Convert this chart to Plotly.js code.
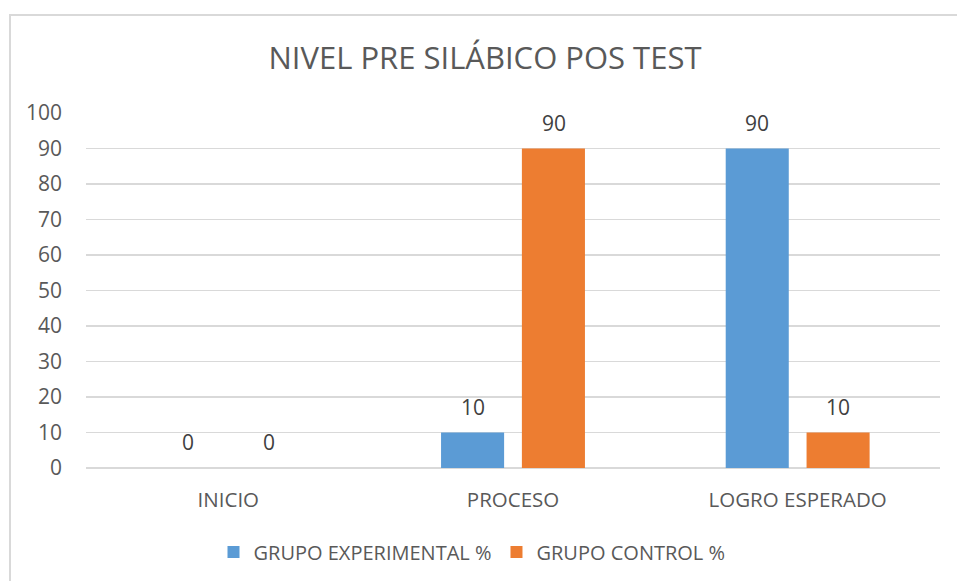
<!DOCTYPE html>
<html>
<head>
<meta charset="utf-8">
<script src="https://cdn.plot.ly/plotly-3.0.1.min.js"></script>
<style>
html,body{margin:0;padding:0;background:#fff;overflow:hidden;}
#frame{position:absolute;left:9px;top:14px;width:1000px;height:1000px;border:2px solid #d9d9d9;box-sizing:border-box;}
#chart{position:absolute;left:0;top:0;width:957px;height:581px;}
</style>
</head>
<body>
<div id="frame"></div>
<div id="chart"></div>
<script>
const categories = ['INICIO', 'PROCESO', 'LOGRO ESPERADO'];
const experimental = [0, 10, 90];
const control = [0, 90, 10];
const seriesNames = ['GRUPO EXPERIMENTAL %', 'GRUPO CONTROL %'];
const yTicks = [0, 10, 20, 30, 40, 50, 60, 70, 80, 90, 100];

const FONT = 'Open Sans, sans-serif';
const labelFont = {family: FONT, size: 21, color: '#404040'};
const BAR_OFFSET = 40.5; // px offset of each grouped bar from category centre

const traces = [
  {type: 'bar', name: seriesNames[0], x: categories, y: experimental,
   marker: {color: '#5b9bd5'}, hoverinfo: 'none'},
  {type: 'bar', name: seriesNames[1], x: categories, y: control,
   marker: {color: '#ed7d31'}, hoverinfo: 'none'}
];

const annotations = [];
[experimental, control].forEach((vals, si) => {
  vals.forEach((v, i) => {
    annotations.push({x: categories[i], y: v, xref: 'x', yref: 'y', text: String(v),
      showarrow: false, xanchor: 'center', yanchor: 'bottom',
      xshift: si === 0 ? -BAR_OFFSET : BAR_OFFSET, yshift: 10, font: labelFont});
  });
});

const layout = {
  width: 957, height: 581,
  paper_bgcolor: 'rgba(0,0,0,0)', plot_bgcolor: 'rgba(0,0,0,0)',
  margin: {l: 86, r: 17, t: 113, b: 113},
  barmode: 'group', bargap: 0.432, bargroupgap: 0.22,
  title: {text: 'NIVEL PRE SILÁBICO POS TEST', font: {family: FONT, size: 31, color: '#595959'},
          x: 485/957, xanchor: 'center', y: 1 - 58/581, yref: 'container', yanchor: 'middle'},
  xaxis: {type: 'category', showgrid: false, ticks: '', showline: false, zeroline: false,
          tickfont: {family: FONT, size: 20.5, color: '#595959'}, ticklabelstandoff: 17},
  yaxis: {range: [0, 100], tickvals: yTicks, ticktext: yTicks.map(String), showgrid: true,
          gridcolor: '#d9d9d9', gridwidth: 1.5, zeroline: true, zerolinecolor: '#d9d9d9', zerolinewidth: 1.5,
          showline: false, ticks: '', tickfont: {family: FONT, size: 21, color: '#595959'}, ticklabelstandoff: 23},
  showlegend: true,
  legend: {orientation: 'h', x: 472/957, xref: 'container', xanchor: 'center', y: 1 - 552/581, yref: 'container', yanchor: 'middle',
           font: {family: FONT, size: 20, color: '#595959'}, itemwidth: 30, traceorder: 'normal'},
  annotations: annotations
};

Plotly.newPlot('chart', traces, layout, {displayModeBar: false, staticPlot: true});
</script>
</body>
</html>
